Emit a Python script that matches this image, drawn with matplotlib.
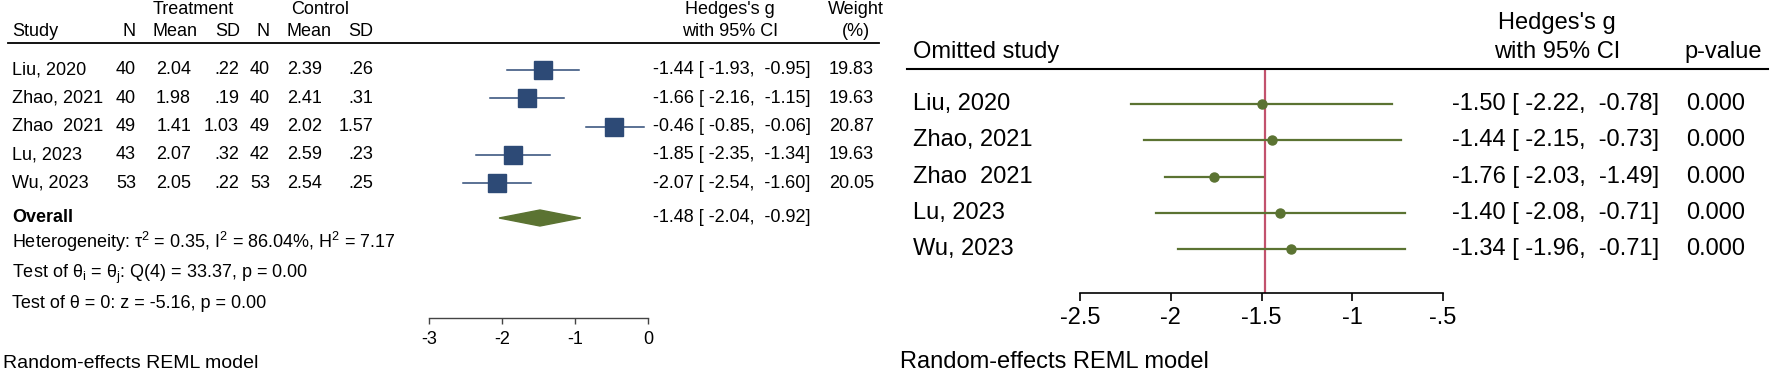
import matplotlib
matplotlib.use("Agg")
import matplotlib.pyplot as plt
from matplotlib.transforms import blended_transform_factory
from matplotlib.lines import Line2D
from matplotlib.patches import Polygon

plt.rcParams['font.family'] = ['Liberation Sans', 'DejaVu Sans']

# ---- data: meta-analysis (left) ----
studies = ["Liu, 2020", "Zhao, 2021", "Zhao  2021", "Lu, 2023", "Wu, 2023"]
trt_n = [40, 40, 49, 43, 53]
trt_mean = [2.04, 1.98, 1.41, 2.07, 2.05]
trt_sd = [0.22, 0.19, 1.03, 0.32, 0.22]
ctl_n = [40, 40, 49, 42, 53]
ctl_mean = [2.39, 2.41, 2.02, 2.59, 2.54]
ctl_sd = [0.26, 0.31, 1.57, 0.23, 0.25]
g = [-1.44, -1.66, -0.46, -1.85, -2.07]
g_lo = [-1.93, -2.16, -0.85, -2.35, -2.54]
g_hi = [-0.95, -1.15, -0.06, -1.34, -1.60]
weights = [19.83, 19.63, 20.87, 19.63, 20.05]
overall_g, overall_lo, overall_hi = -1.48, -2.04, -0.92
left_ticks = [-3, -2, -1, 0]

# ---- data: leave-one-out (right) ----
loo_g = [-1.50, -1.44, -1.76, -1.40, -1.34]
loo_lo = [-2.22, -2.15, -2.03, -2.08, -1.96]
loo_hi = [-0.78, -0.73, -1.49, -0.71, -0.71]
loo_p = [0.000, 0.000, 0.000, 0.000, 0.000]
right_ticks = [-2.5, -2, -1.5, -1, -0.5]
right_ticklabels = ["-2.5", "-2", "-1.5", "-1", "-.5"]

NAVY = "#2d4a76"
OLIVE = "#5b7332"
RED = "#c2526d"

W, H = 1772, 373
fig = plt.figure(figsize=(W / 100, H / 100), dpi=100)


def fx(px):
    return px / W


def fy(py):
    return 1 - py / H


def sd_fmt(v):
    s = f"{v:.2f}"
    return s[1:] if s.startswith("0") else s


def ci_fmt(est, lo, hi):
    return f"{est:.2f} [{lo:6.2f}, {hi:6.2f}]"


# ================= left panel =================
fs = 13
row0, step = 70, 28.3
ax1 = fig.add_axes([fx(429), fy(318), fx(648) - fx(429), (318 - 43) / H])
ax1.set_xlim(-3, 0)
ax1.set_ylim((318 - row0) / step, (43 - row0) / step)
for s in ["top", "left", "right"]:
    ax1.spines[s].set_visible(False)
ax1.spines["bottom"].set_color("#444444")
ax1.spines["bottom"].set_linewidth(1)
ax1.set_yticks([])
ax1.set_xticks(left_ticks)
ax1.set_xticklabels([str(t) for t in left_ticks])
ax1.tick_params(axis="x", direction="out", length=4, width=1, color="#444444",
                labelsize=fs, pad=5)
ax1.patch.set_visible(False)

rows = list(range(len(studies)))
for i in rows:
    ax1.plot([g_lo[i], g_hi[i]], [i, i], color=NAVY, lw=1.1, clip_on=False)
    ax1.plot(g[i], i, marker="s", color=NAVY, markersize=2.8 * weights[i] ** 0.5,
             clip_on=False)
ov_y = (218 - row0) / step
dh = 8 / step
ax1.add_patch(Polygon([[overall_lo, ov_y], [overall_g, ov_y - dh],
                       [overall_hi, ov_y], [overall_g, ov_y + dh]],
                      closed=True, color=OLIVE, clip_on=False))

tr1 = blended_transform_factory(fig.transFigure, ax1.transData)

# header
fig.text(fx(193), fy(10), "Treatment", ha="center", va="center", fontsize=fs)
fig.text(fx(320), fy(10), "Control", ha="center", va="center", fontsize=fs)
fig.text(fx(730), fy(10), "Hedges's g", ha="center", va="center", fontsize=fs)
fig.text(fx(856), fy(10), "Weight", ha="center", va="center", fontsize=fs)
fig.text(fx(12), fy(32), "Study", ha="left", va="center", fontsize=fs)
for x, lab in [(136, "N"), (198, "Mean"), (240, "SD"), (270, "N"), (331, "Mean"), (373, "SD")]:
    fig.text(fx(x), fy(32), lab, ha="right", va="center", fontsize=fs)
fig.text(fx(730), fy(32), "with 95% CI", ha="center", va="center", fontsize=fs)
fig.text(fx(856), fy(32), "(%)", ha="center", va="center", fontsize=fs)
fig.add_artist(Line2D([fx(8), fx(879)], [fy(43), fy(43)], color="black", lw=1.3,
                      transform=fig.transFigure))

for i in rows:
    ax1.text(fx(12), i, studies[i], transform=tr1, ha="left", va="center", fontsize=fs)
    cols = [(136, str(trt_n[i])), (191, f"{trt_mean[i]:.2f}"), (239, sd_fmt(trt_sd[i])),
            (270, str(ctl_n[i])), (322, f"{ctl_mean[i]:.2f}"), (373, sd_fmt(ctl_sd[i])),
            (874, f"{weights[i]:.2f}")]
    for x, txt in cols:
        ax1.text(fx(x), i, txt, transform=tr1, ha="right", va="center", fontsize=fs)
    ax1.text(fx(653), i, ci_fmt(g[i], g_lo[i], g_hi[i]), transform=tr1,
             ha="left", va="center", fontsize=fs)

ax1.text(fx(12), ov_y, "Overall", transform=tr1, ha="left", va="center",
         fontsize=fs, fontweight="bold")
ax1.text(fx(653), ov_y, ci_fmt(overall_g, overall_lo, overall_hi), transform=tr1,
         ha="left", va="center", fontsize=fs)

fig.text(fx(12), fy(242),
         r"Heterogeneity: τ$\mathregular{^2}$ = 0.35, I$\mathregular{^2}$ = 86.04%, H$\mathregular{^2}$ = 7.17",
         ha="left", va="center", fontsize=fs)
fig.text(fx(12), fy(274),
         r"Test of θ$\mathregular{_i}$ = θ$\mathregular{_j}$: Q(4) = 33.37, p = 0.00",
         ha="left", va="center", fontsize=fs)
fig.text(fx(12), fy(304), "Test of θ = 0: z = -5.16, p = 0.00",
         ha="left", va="center", fontsize=fs)
fig.text(fx(3), fy(363), "Random-effects REML model", ha="left", va="center", fontsize=14)

# ================= right panel =================
fs2 = 17
rrow0, rstep = 104, 36.3
ax2 = fig.add_axes([fx(1080), fy(293), fx(1443) - fx(1080), (293 - 69) / H])
ax2.set_xlim(-2.5, -0.5)
ax2.set_ylim((293 - rrow0) / rstep, (69 - rrow0) / rstep)
for s in ["top", "left", "right"]:
    ax2.spines[s].set_visible(False)
ax2.spines["bottom"].set_linewidth(1.2)
ax2.set_yticks([])
ax2.set_xticks(right_ticks)
ax2.set_xticklabels(right_ticklabels)
ax2.tick_params(axis="x", direction="out", length=6, width=1.2, labelsize=fs2, pad=4)
ax2.patch.set_visible(False)

ax2.axvline(overall_g, color=RED, lw=1.6, zorder=1)
for i in rows:
    ax2.plot([loo_lo[i], loo_hi[i]], [i, i], color=OLIVE, lw=1.6, zorder=2)
    ax2.plot(loo_g[i], i, marker="o", color=OLIVE, markersize=6.5, zorder=3)

tr2 = blended_transform_factory(fig.transFigure, ax2.transData)
fig.text(fx(1557), fy(23), "Hedges's g", ha="center", va="center", fontsize=fs2)
fig.text(fx(1557), fy(52), "with 95% CI", ha="center", va="center", fontsize=fs2)
fig.text(fx(1723), fy(52), "p-value", ha="center", va="center", fontsize=fs2)
fig.text(fx(913), fy(52), "Omitted study", ha="left", va="center", fontsize=fs2)
fig.add_artist(Line2D([fx(907), fx(1768)], [fy(69), fy(69)], color="black", lw=1.5,
                      transform=fig.transFigure))

for i in rows:
    ax2.text(fx(913), i, studies[i], transform=tr2, ha="left", va="center", fontsize=fs2)
    ax2.text(fx(1452), i, ci_fmt(loo_g[i], loo_lo[i], loo_hi[i]), transform=tr2,
             ha="left", va="center", fontsize=fs2)
    ax2.text(fx(1745), i, f"{loo_p[i]:.3f}", transform=tr2, ha="right",
             va="center", fontsize=fs2)

fig.text(fx(900), fy(362), "Random-effects REML model", ha="left", va="center", fontsize=fs2)

fig.savefig("out.png", dpi=100, facecolor="white")
